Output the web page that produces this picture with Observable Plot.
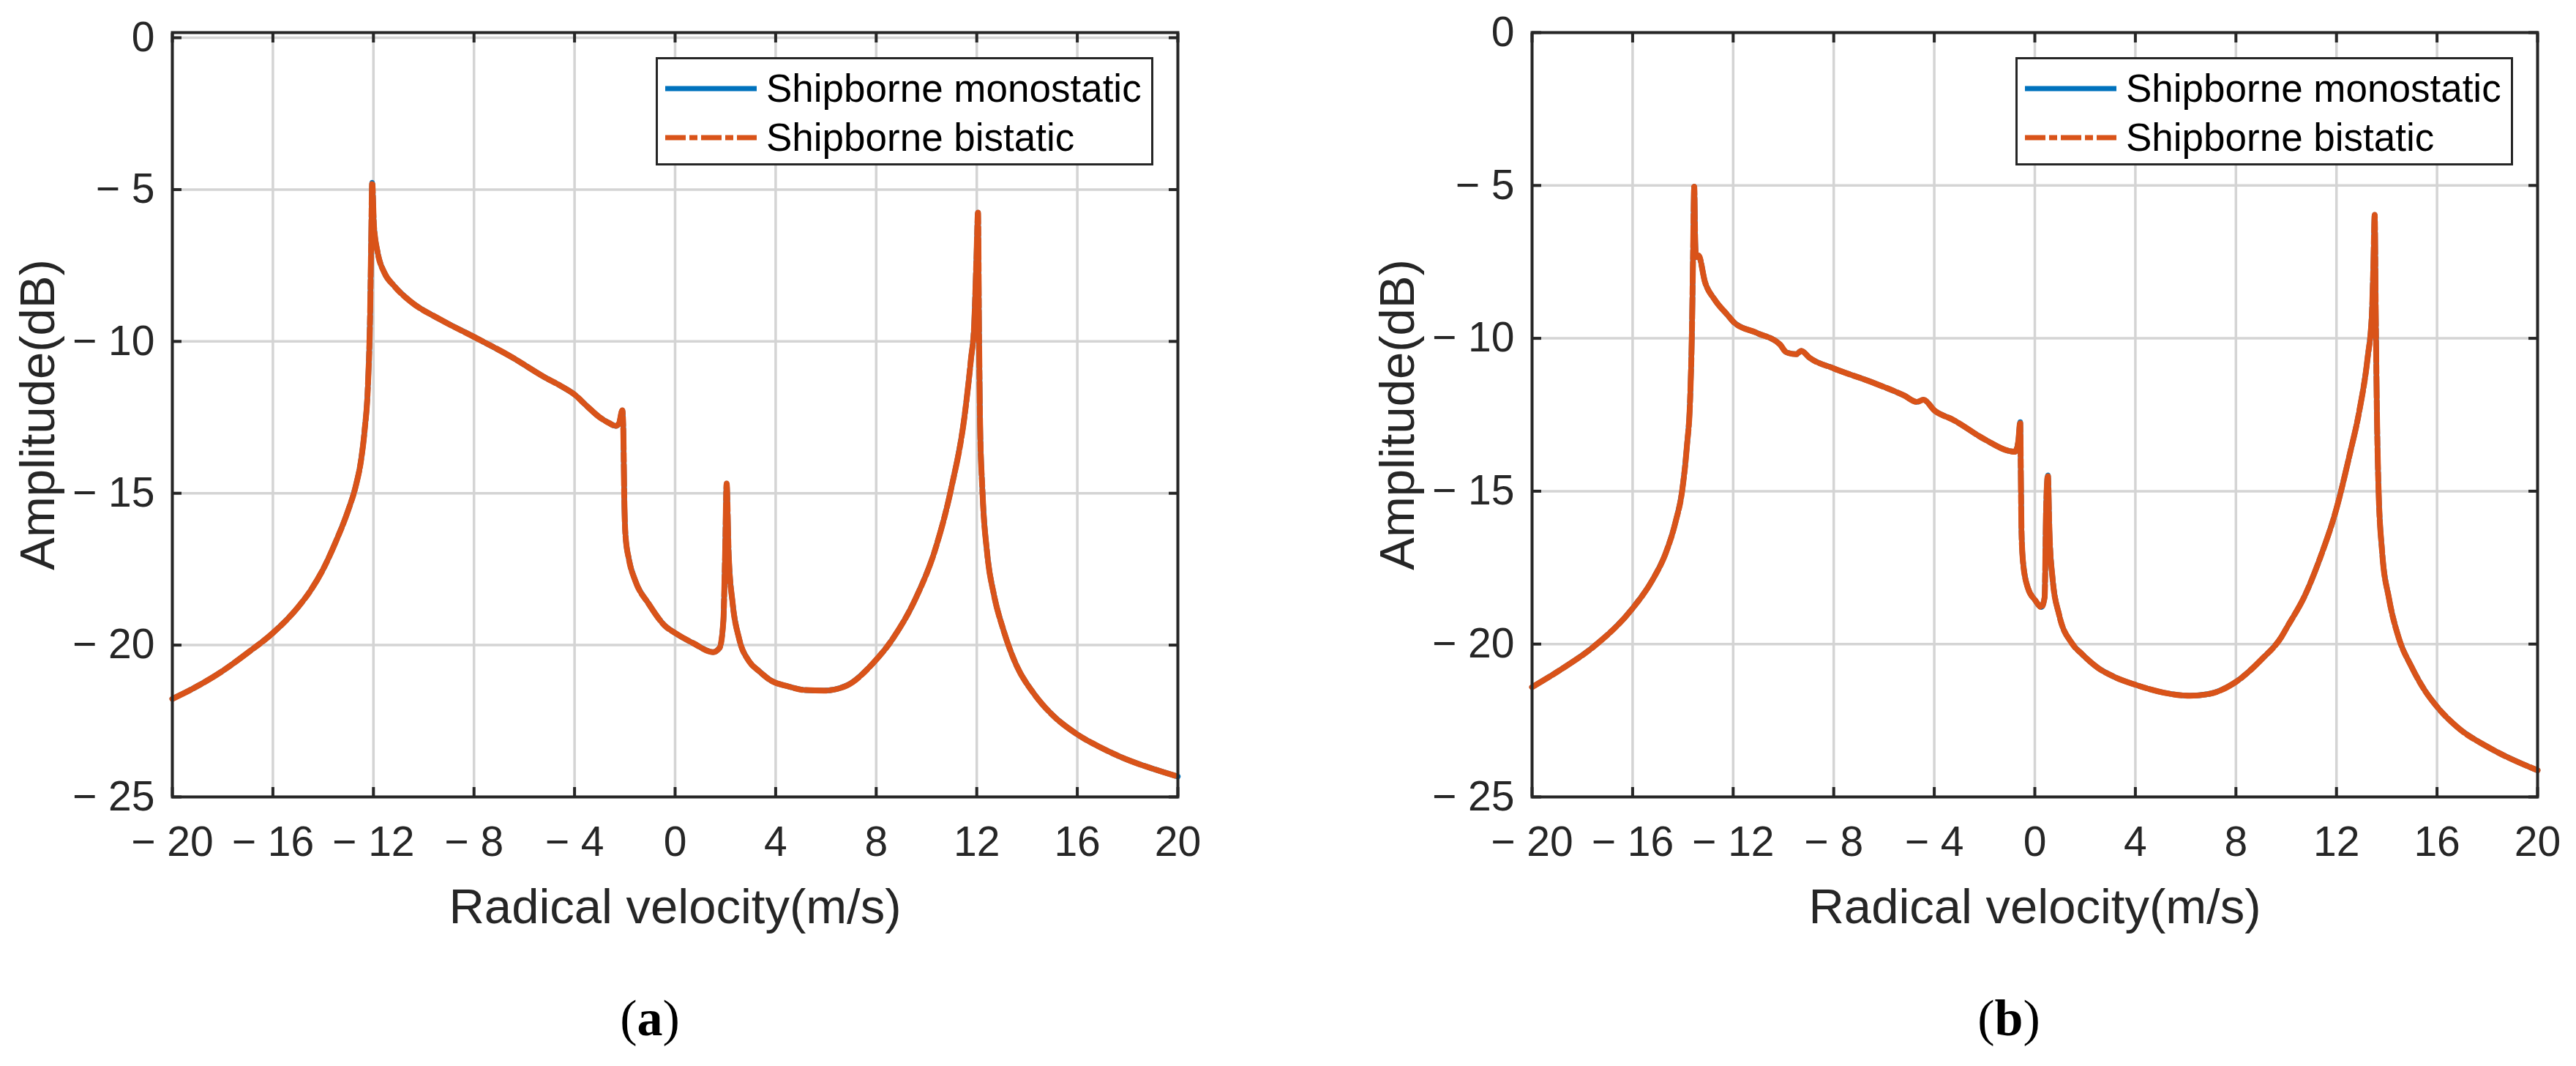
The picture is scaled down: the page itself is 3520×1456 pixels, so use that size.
<!DOCTYPE html>
<html>
<head>
<meta charset="utf-8">
<script src="https://cdn.jsdelivr.net/npm/d3@7"></script>
<script src="https://cdn.jsdelivr.net/npm/@observablehq/plot@0.6"></script>
<style>
  body { margin: 0; background: #fff; font-family: "Liberation Sans", Arial, sans-serif; }
  #wrap { display: flex; width: 3520px; height: 1456px; }
  .panel { position: relative; width: 1760px; height: 1456px; }
  .panel svg { display: block; }
  .legend { position: absolute; top: 78px; width: 680px; height: 148px; box-sizing: border-box;
            border: 3.5px solid #262626; background: #fff; }
  .row { position: absolute; left: 10px; height: 60px; display: flex; align-items: center;
         font-size: 53px; color: #000; white-space: nowrap; }
  .row svg { margin-right: 13px; }
  .caption { position: absolute; top: 1356px; line-height: 1; transform: translateX(-50%);
             font-family: "Liberation Serif", "Times New Roman", serif; font-size: 70px; color: #000; }
</style>
</head>
<body>
<div id="wrap">
  <div class="panel" id="pa"></div>
  <div class="panel" id="pb"></div>
</div>
<script>
// ejes
const xTicks = [-20, -16, -12, -8, -4, 0, 4, 8, 12, 16, 20]
const yTicks = [-25, -20, -15, -10, -5, 0]
const seriesNames = ['Shipborne monostatic', 'Shipborne bistatic']

// (a) velocidad radial y amplitud
const velA = [-20, -19, -18, -17, -16, -15, -14.5, -14, -13.5, -13, -12.7, -12.5, -12.35, -12.22, -12.13, -12.09, -12.05,
  -11.98, -11.83, -11.57, -11.18, -10.53, -9.36, -8, -6.51, -5.21, -4.56, -4, -3.52, -3, -2.62, -2.36, -2.23, -2.1, -2.06,
  -2.02, -1.97, -1.84, -1.58, -1.06, -0.41, 0, 0.73, 1.51, 1.77, 1.92, 1.99, 2.05, 2.13, 2.29, 2.55, 2.94, 3.33, 3.84,
  4.5, 5.14, 5.92, 6.83, 7.87, 8.65, 9.56, 10.34, 10.99, 11.51, 11.77, 11.9, 11.99, 12.05, 12.09, 12.13, 12.22, 12.42,
  12.68, 13.06, 13.58, 14.23, 14.6, 15.01, 16, 16.83, 17.4, 18.13, 19, 20]
const monoA = [-21.77, -21.35, -20.85, -20.25, -19.6, -18.75, -18.2, -17.5, -16.6, -15.55, -14.75, -13.95, -12.92, -11.46, -8.98, -6.78, -4.77,
  -6.2, -7.08, -7.73, -8.17, -8.68, -9.27, -9.85, -10.51, -11.17, -11.46, -11.75, -12.12, -12.5, -12.69, -12.78, -12.7, -12.27, -12.92,
  -15.26, -16.43, -17.16, -17.89, -18.63, -19.36, -19.6, -19.94, -20.23, -20.09, -19.2, -17.0, -14.68, -17.0, -18.63, -19.8, -20.53, -20.85, -21.18,
  -21.36, -21.48, -21.5, -21.33, -20.6, -19.8, -18.48, -16.87, -14.82, -12.49, -10.58, -9.42, -7.22, -5.76, -9.71, -12.63, -14.82, -17.02,
  -18.33, -19.5, -20.67, -21.55, -21.94, -22.3, -22.94, -23.33, -23.56, -23.82, -24.07, -24.33]
// las dos curvas coinciden en la figura
const biA = monoA

// (b)
const velB = [-20, -18.83, -17.53, -16, -15.2, -14.68, -14.29, -14.03, -13.84, -13.71, -13.64, -13.6, -13.55, -13.51,
  -13.47, -13.38, -13.12, -12.73, -12.21, -11.98, -11.04, -10.14, -9.88, -9.49, -9.29, -8.97, -7.98, -6.5, -5.2, -4.69,
  -4.43, -3.98, -3.26, -1.96, -1.05, -0.79, -0.66, -0.58, -0.56, -0.53, -0.47, -0.27, 0, 0.26, 0.39, 0.45, 0.52, 0.58,
  0.71, 0.97, 1.49, 1.88, 2.53, 3.18, 4, 5.13, 6.16, 6.94, 8.01, 9.02, 9.8, 10.06, 10.71, 11.36, 12, 12.52, 12.91, 13.24, 13.41,
  13.47, 13.52, 13.56, 13.6, 13.67, 13.82, 14.08, 14.47, 14.99, 15.5, 16, 16.81, 18.1, 20]
const monoB = [-21.41, -20.82, -20.07, -18.83, -17.89, -17.02, -16.0, -14.99, -13.53, -11.94, -9.76, -7.58, -5.04, -6.86,
  -7.35, -7.29, -8.16, -8.74, -9.25, -9.47, -9.83, -10.2, -10.46, -10.52, -10.41, -10.63, -10.99, -11.43, -11.87, -12.08,
  -12.01, -12.37, -12.66, -13.32, -13.68, -13.71, -13.39, -12.74, -14.11, -16.29, -17.31, -18.18, -18.55, -18.79, -18.47, -15.57, -14.48, -16.29,
  -17.89, -19.05, -19.99, -20.33, -20.79, -21.08, -21.33, -21.59, -21.69, -21.63, -21.23, -20.5, -19.78, -19.41, -18.47, -17.16, -15.57, -13.82, -12.37, -10.63, -9.18,
  -7.58, -5.96, -9.03, -11.94, -14.84, -17.02, -18.47, -19.78, -20.75, -21.5, -22.05, -22.72, -23.4, -24.13]
const biB = monoB

const blue = '#0072BD'
const orange = '#D95319'
const ink = '#262626'
const dashDot = '28,5,11,5'

const fmt = d => d < 0 ? '\u2212 ' + Math.abs(d) : String(d)

function grafico(vel, mono, bi, yTop, mLeft, mRight) {
  const rows = vel.map((v, i) => ({ v, mono: mono[i], bi: bi[i] }))
  return Plot.plot({
    width: 1760,
    height: 1456,
    marginLeft: mLeft,
    marginRight: mRight,
    marginTop: 44,
    marginBottom: 368,
    style: { fontFamily: '"Liberation Sans", Arial, sans-serif', color: ink, background: 'transparent', overflow: 'visible' },
    x: { domain: [-20, 20] },
    y: { domain: [-25, yTop] },
    marks: [
      Plot.gridX(xTicks, { stroke: '#d4d4d4', strokeOpacity: 1, strokeWidth: 3.5 }),
      Plot.gridY(yTicks, { stroke: '#d4d4d4', strokeOpacity: 1, strokeWidth: 3.5 }),
      Plot.line(rows, { x: 'v', y: 'mono', stroke: blue, strokeWidth: 7.5, curve: 'monotone-x' }),
      Plot.line(rows, { x: 'v', y: 'bi', stroke: orange, strokeWidth: 8, strokeDasharray: dashDot, curve: 'monotone-x' }),
      Plot.frame({ stroke: ink, strokeWidth: 4 }),
      Plot.axisX({ anchor: 'bottom', ticks: xTicks, tickSize: -13, tickPadding: 53, tickFormat: fmt, label: null, fontSize: 57, stroke: ink, strokeWidth: 4, fill: ink }),
      Plot.axisX({ anchor: 'top', ticks: xTicks, tickSize: -13, tickFormat: () => '', label: null, stroke: ink, strokeWidth: 4 }),
      Plot.axisY({ anchor: 'left', ticks: yTicks, tickSize: -13, tickPadding: 37, tickFormat: fmt, label: null, fontSize: 57, stroke: ink, strokeWidth: 4, fill: ink }),
      Plot.axisY({ anchor: 'right', ticks: yTicks, tickSize: -13, tickFormat: () => '', label: null, stroke: ink, strokeWidth: 4 }),
      Plot.text(['Radical velocity(m/s)'], { text: d => d, frameAnchor: 'bottom', dy: 151, lineAnchor: 'middle', fontSize: 67, fill: ink }),
      Plot.text(['Amplitude(dB)'], { text: d => d, frameAnchor: 'left', dx: -183, rotate: -90, lineAnchor: 'middle', textAnchor: 'middle', fontSize: 67, fill: ink }),
    ],
  })
}

function leyenda(left) {
  const box = document.createElement('div')
  box.className = 'legend'
  box.style.left = left + 'px'
  const estilos = [{ stroke: blue, dash: null }, { stroke: orange, dash: dashDot }]
  seriesNames.forEach((name, i) => {
    const row = document.createElement('div')
    row.className = 'row'
    row.style.top = (i === 0 ? 9.5 : 76.5) + 'px'
    const s = estilos[i]
    row.innerHTML = `<svg width="125" height="20"><line x1="0" x2="125" y1="10" y2="10" stroke="${s.stroke}" stroke-width="7" ${s.dash ? `stroke-dasharray="${s.dash}"` : ''}/></svg><span>${name}</span>`
    box.appendChild(row)
  })
  return box
}

function rotulo(letra, cx) {
  const c = document.createElement('div')
  c.className = 'caption'
  c.style.left = cx + 'px'
  c.innerHTML = `(<b>${letra}</b>)`
  return c
}

const pa = document.getElementById('pa')
pa.appendChild(grafico(velA, monoA, biA, 0.17, 235, 151))
pa.appendChild(leyenda(896))
pa.appendChild(rotulo('a', 888))

const pb = document.getElementById('pb')
pb.appendChild(grafico(velB, monoB, biB, 0, 333, 53))
pb.appendChild(leyenda(994))
pb.appendChild(rotulo('b', 985))
</script>
</body>
</html>
